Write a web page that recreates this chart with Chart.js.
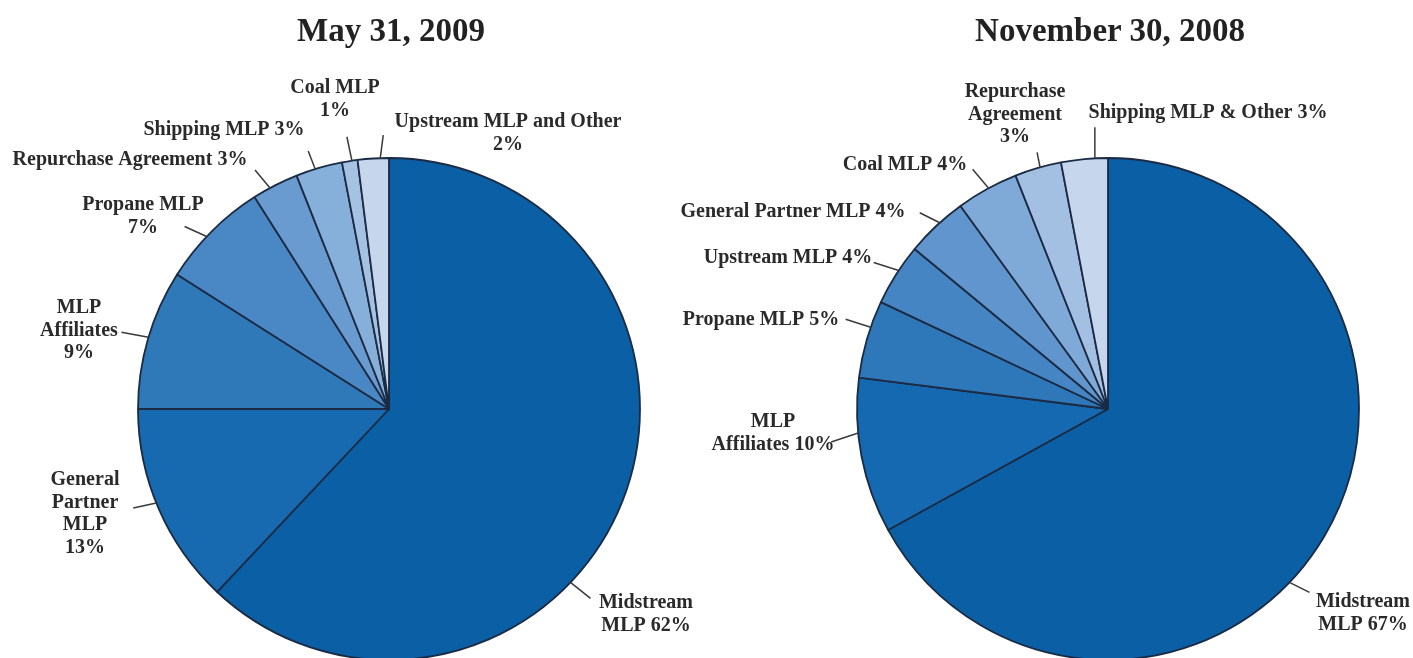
<!DOCTYPE html>
<html>
<head>
<meta charset="utf-8">
<script src="https://cdn.jsdelivr.net/npm/chart.js@4"></script>
<style>
  html, body { margin: 0; padding: 0; background: #fff; overflow: hidden; }
  #wrap { position: relative; width: 1413px; height: 658px; }
  canvas { position: absolute; top: 0; left: 0; }
  .title {
    position: absolute; top: 12px; width: 500px; text-align: center;
    font: bold 33px "Liberation Serif", "Times New Roman", serif; color: #222;
  }
</style>
</head>
<body>
<div id="wrap">
  <canvas id="left-pie" width="1413" height="658"></canvas>
  <canvas id="right-pie" width="1413" height="658"></canvas>
  <div class="title" style="left:141px">May 31, 2009</div>
  <div class="title" style="left:860px">November 30, 2008</div>
</div>
<script>
"use strict";

// May 31, 2009
const mayCategories = [
  "Midstream MLP", "General Partner MLP", "MLP Affiliates", "Propane MLP",
  "Repurchase Agreement", "Shipping MLP", "Coal MLP", "Upstream MLP and Other",
];
const mayValues = [62, 13, 9, 7, 3, 3, 1, 2];
const mayLabels = [
  ["Midstream", "MLP {v}%"],
  ["General", "Partner", "MLP", "{v}%"],
  ["MLP", "Affiliates", "{v}%"],
  ["Propane MLP", "{v}%"],
  ["Repurchase Agreement {v}%"],
  ["Shipping MLP {v}%"],
  ["Coal MLP", "{v}%"],
  ["Upstream MLP and Other", "{v}%"],
];

// November 30, 2008
const novCategories = [
  "Midstream MLP", "MLP Affiliates", "Propane MLP", "Upstream MLP",
  "General Partner MLP", "Coal MLP", "Repurchase Agreement", "Shipping MLP & Other",
];
const novValues = [67, 10, 5, 4, 4, 4, 3, 3];
const novLabels = [
  ["Midstream", "MLP {v}%"],
  ["MLP", "Affiliates {v}%"],
  ["Propane MLP {v}%"],
  ["Upstream MLP {v}%"],
  ["General Partner MLP {v}%"],
  ["Coal MLP {v}%"],
  ["Repurchase", "Agreement", "{v}%"],
  ["Shipping MLP & Other {v}%"],
];

const mayColors = ["#0b5fa5", "#176ab0", "#2f79b9", "#4a88c5", "#6a9bd0", "#86afda", "#a6c2e3", "#c5d6ed"];
const novColors = ["#0b5fa5", "#1569b0", "#2e78b9", "#4585c3", "#6096cd", "#7fa9d7", "#a3bfe2", "#c5d6ed"];

// leader angle (deg clockwise from top), leader end offset, text centre relative to pie centre
const mayLayout = [
  { a: 133.7, lx: 20, ly: 16, tx: 257, ty: 194 },
  { a: 248, lx: -23, ly: 5, tx: -304, ty: 71 },
  { a: 286.6, lx: -27, ly: -5, tx: -310, ty: -101 },
  { a: 313.4, lx: -22, ly: -10, tx: -246, ty: -204 },
  { a: 331.7, lx: -15, ly: -18, tx: -259, ty: -249 },
  { a: 342.9, lx: -7, ly: -18, tx: -165, ty: -279 },
  { a: 351.5, lx: -5, ly: -24, tx: -54, ty: -321 },
  { a: 358, lx: 3, ly: -23, tx: 119, ty: -287 },
];
const novLayout = [
  { a: 133.7, lx: 20, ly: 10, tx: 255, ty: 193 },
  { a: 264.5, lx: -27, ly: 9, tx: -335, ty: 13 },
  { a: 289, lx: -25, ly: -8, tx: -347, ty: -89 },
  { a: 303.5, lx: -25, ly: -8, tx: -320, ty: -151 },
  { a: 317.9, lx: -20, ly: -10, tx: -315, ty: -197 },
  { a: 331.6, lx: -16, ly: -19, tx: -203, ty: -244 },
  { a: 344.3, lx: -3, ly: -15, tx: -93, ty: -317 },
  { a: 357, lx: 0, ly: -31, tx: 100, ty: -296 },
];

const labelPlugin = {
  id: "pieLabels",
  afterDatasetsDraw(chart, args, opts) {
    const ctx = chart.ctx;
    const meta = chart.getDatasetMeta(0);
    const values = chart.data.datasets[0].data;
    ctx.save();
    ctx.font = "bold 20px 'Liberation Serif', 'Times New Roman', serif";
    ctx.fillStyle = "#2a2a2a";
    ctx.strokeStyle = "#3a3a3a";
    ctx.lineWidth = 1.5;
    ctx.textAlign = "center";
    ctx.textBaseline = "middle";
    meta.data.forEach((arc, i) => {
      const lay = opts.layout[i];
      const rad = lay.a * Math.PI / 180;
      const px = arc.x + arc.outerRadius * Math.sin(rad);
      const py = arc.y - arc.outerRadius * Math.cos(rad);
      ctx.beginPath();
      ctx.moveTo(px, py);
      ctx.lineTo(px + lay.lx, py + lay.ly);
      ctx.stroke();
      opts.lines[i].forEach((line, k) => {
        ctx.fillText(line.replace("{v}", values[i]), arc.x + lay.tx, arc.y + lay.ty + k * 22.5);
      });
    });
    ctx.restore();
  },
};

function makePie(canvasId, categories, values, colors, lines, layout, padding) {
  return new Chart(document.getElementById(canvasId), {
    type: "pie",
    data: {
      labels: categories,
      datasets: [{
        data: values,
        backgroundColor: colors,
        borderColor: "#1b2b44",
        borderWidth: 1.8,
      }],
    },
    options: {
      responsive: false,
      animation: false,
      devicePixelRatio: 1,
      radius: 251,
      layout: { padding },
      plugins: {
        legend: { display: false },
        tooltip: { enabled: false },
        pieLabels: { lines, layout },
      },
    },
    plugins: [labelPlugin],
  });
}

// both canvases span the full page; padding puts each pie centre in place
makePie("left-pie", mayCategories, mayValues, mayColors, mayLabels, mayLayout,
  { left: 100, right: 735, top: 160, bottom: 0 });
makePie("right-pie", novCategories, novValues, novColors, novLabels, novLayout,
  { left: 830, right: 27, top: 160, bottom: 0 });
</script>
</body>
</html>
